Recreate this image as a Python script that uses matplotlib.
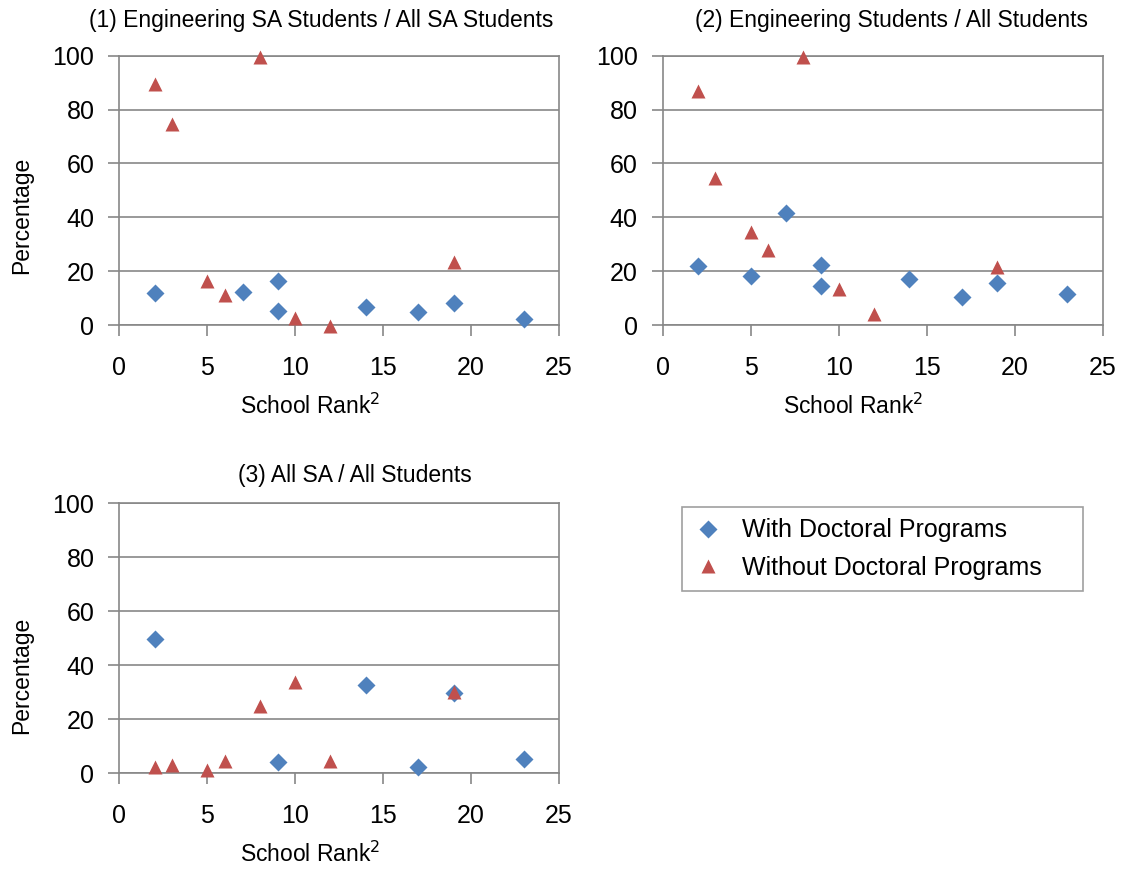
import numpy as np
import matplotlib.pyplot as plt

plt.rcParams['font.family'] = ['Liberation Sans', 'DejaVu Sans']

# x = school rank, y = percentage
# (1) Engineering SA Students / All SA Students
p1_doc_x = [2, 7, 9, 9, 14, 17, 19, 23]
p1_doc_y = [12, 12.5, 16.3, 5.4, 6.9, 4.8, 8.4, 2.2]
p1_nodoc_x = [2, 3, 5, 6, 8, 10, 12, 19]
p1_nodoc_y = [89.6, 74.7, 16.4, 11.4, 99.6, 2.7, -0.4, 23.5]

# (2) Engineering Students / All Students
p2_doc_x = [2, 5, 7, 9, 9, 14, 17, 19, 23]
p2_doc_y = [22.0, 18.3, 41.5, 22.2, 14.6, 17.2, 10.4, 15.6, 11.5]
p2_nodoc_x = [2, 3, 5, 6, 8, 10, 12, 19]
p2_nodoc_y = [86.7, 54.8, 34.7, 27.8, 99.6, 13.5, 4.0, 21.6]

# (3) All SA / All Students
p3_doc_x = [2, 9, 14, 17, 19, 23]
p3_doc_y = [49.6, 4.3, 32.8, 2.2, 29.6, 5.2]
p3_nodoc_x = [2, 3, 5, 6, 8, 10, 12, 19]
p3_nodoc_y = [2.3, 3.0, 1.1, 4.4, 24.8, 33.7, 4.6, 30.1]

titles = ['(1) Engineering SA Students / All SA Students',
          '(2) Engineering Students / All Students',
          '(3) All SA / All Students']

blue = '#4F81BD'
red = '#C0504D'
grey = '#878787'

fig = plt.figure(figsize=(11.22, 8.76), dpi=100)
ax1 = fig.add_axes([0.1065, 0.6287, 0.3917, 0.3078])
ax2 = fig.add_axes([0.5906, 0.6287, 0.3922, 0.3078])
ax3 = fig.add_axes([0.1065, 0.1172, 0.3917, 0.3082])

# axes, data, title pos (axes coords), ylabel y (axes coords)
panels = [
    (ax1, p1_doc_x, p1_doc_y, p1_nodoc_x, p1_nodoc_y, (0.459, 1.132), 0.409),
    (ax2, p2_doc_x, p2_doc_y, p2_nodoc_x, p2_nodoc_y, (0.52, 1.132), None),
    (ax3, p3_doc_x, p3_doc_y, p3_nodoc_x, p3_nodoc_y, (0.536, 1.104), 0.364),
]

for i, (ax, dx, dy, nx, ny, tpos, ly) in enumerate(panels):
    ax.plot(dx, dy, 'D', ms=8.7, color=blue, mec='none', zorder=3,
            clip_on=False, label='With Doctoral Programs')
    ax.plot(nx, ny, '^', ms=10.5, color=red, mec='none', zorder=3,
            clip_on=False, label='Without Doctoral Programs')
    ax.set_xlim(0, 25)
    ax.set_ylim(0, 100)
    ax.set_xticks(np.arange(0, 26, 5))
    ax.set_yticks(np.arange(0, 101, 20))
    ax.grid(axis='y', color=grey, lw=1.2)
    ax.set_axisbelow(True)
    for s in ax.spines.values():
        s.set_color(grey)
        s.set_linewidth(1.2)
    ax.tick_params(direction='out', length=8, width=1.2, color=grey,
                   labelsize=18)
    ax.tick_params(axis='x', pad=14)
    ax.tick_params(axis='y', pad=10)
    ax.text(tpos[0], tpos[1], titles[i], transform=ax.transAxes,
            ha='center', va='center', fontsize=16.5)
    ax.set_xlabel('School Rank$^2$', fontsize=16.5, va='center')
    ax.xaxis.set_label_coords(0.433, -0.299)
    if ly is not None:
        ax.set_ylabel('Percentage', fontsize=16.5, va='center')
        ax.yaxis.set_label_coords(-0.222, ly)

h, l = ax1.get_legend_handles_labels()
leg = fig.legend(h, l, loc='upper left',
                 bbox_to_anchor=(682 / 1122, 1 - 507 / 876, 401 / 1122, 0.0),
                 mode='expand', fontsize=18, frameon=True, fancybox=False,
                 borderaxespad=0, handletextpad=0.75, borderpad=0.45,
                 labelspacing=0.55, handlelength=1.2)
leg.get_frame().set_edgecolor(grey)
leg.get_frame().set_linewidth(1.2)

fig.savefig('out.png', dpi=100)
